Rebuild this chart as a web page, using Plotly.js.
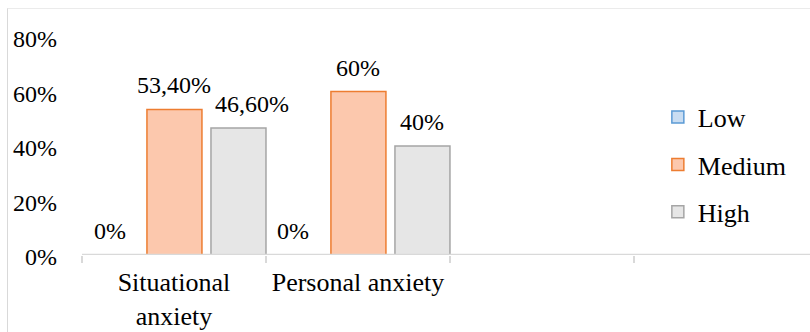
<!DOCTYPE html>
<html>
<head>
<meta charset="utf-8">
<script src="https://cdn.plot.ly/plotly-3.0.1.min.js"></script>
<style>
  html, body { margin: 0; padding: 0; background: #fff; }
  #wrap { position: relative; width: 810px; height: 332px; overflow: hidden; }
  #frame { position: absolute; left: 7px; top: 8px; width: 820px; height: 340px;
           border-left: 1.5px solid #d9d9d9; border-top: 1px solid #ebebeb; pointer-events: none; }
  #chart { position: absolute; left: 0; top: 0; width: 810px; height: 332px; }
</style>
</head>
<body>
<div id="wrap">
  <div id="chart"></div>
  <div id="frame"></div>
</div>
<script>
// ---- data ----
const categories = ["Situational anxiety", "Personal anxiety"];
const categoryLabels = ["Situational<br>anxiety", "Personal anxiety"];
const seriesNames = ["Low", "Medium", "High"];
const lowValues = [0, 0];
const mediumValues = [53.4, 60];
const highValues = [46.6, 40];
const yTickValues = [0, 20, 40, 60, 80];

// ---- styles ----
const serif = "Liberation Serif";
const styles = [
  { fill: "#c9ddf2", line: "#5b9bd5", offset: -0.5 },
  { fill: "#fcc8ad", line: "#ed7d31", offset: -0.147 },
  { fill: "#e6e6e6", line: "#a5a5a5", offset: 0.201 }
];
const barWidth = 0.299;
const allValues = [lowValues, mediumValues, highValues];
const xIdx = categories.map((c, i) => i);

function fmt(v) {
  return Number.isInteger(v) ? v + "%" : v.toFixed(2).replace(".", ",") + "%";
}
// rough label width (px) to nudge overlapping neighbour labels apart
function labelWidth(s) { return s.length * 12; }

const traces = allValues.map((vals, k) => ({
  type: "bar",
  name: seriesNames[k],
  legendgroup: seriesNames[k],
  x: xIdx,
  y: vals,
  width: barWidth,
  offset: styles[k].offset,
  marker: { color: styles[k].fill, line: { color: styles[k].line, width: 1.5 } },
  hoverinfo: "skip"
}));

const pxPerCat = 728 / 3.957;
const annotations = [];
xIdx.forEach((xi, j) => {
  let prevRight = -Infinity;
  allValues.forEach((vals, k) => {
    const v = vals[j];
    const txt = fmt(v);
    const cx = (xi + styles[k].offset + barWidth / 2) * pxPerCat;
    const w = labelWidth(txt);
    let shift = 0;
    if (cx - w / 2 < prevRight + 6) shift = prevRight + 6 - (cx - w / 2);
    prevRight = cx + shift + w / 2;
    annotations.push({
      xref: "x", yref: "y",
      x: xi + styles[k].offset + barWidth / 2,
      y: v,
      text: txt,
      showarrow: false,
      xanchor: "center", yanchor: "middle",
      xshift: shift,
      yshift: 24,
      font: { family: serif, size: 24, color: "#000" }
    });
  });
});

const layout = {
  width: 810, height: 332,
  margin: { l: 82, r: 0, t: 37, b: 77, pad: 0 },
  paper_bgcolor: "rgba(0,0,0,0)",
  plot_bgcolor: "rgba(0,0,0,0)",
  barmode: "overlay",
  showlegend: true,
  legend: {
    x: 0.791, xanchor: "left", y: 0.74, yanchor: "top",
    font: { family: serif, size: 26, color: "#000" },
    tracegroupgap: 10.5, itemwidth: 30, bgcolor: "rgba(0,0,0,0)"
  },
  shapes: [{
    type: "line", layer: "above",
    xref: "paper", yref: "y",
    x0: 0, x1: 1, y0: 0, y1: 0,
    line: { color: "#d9d9d9", width: 2.5 }
  }],
  xaxis: {
    type: "linear",
    range: [-0.5, 3.457],
    tickvals: xIdx,
    ticktext: categoryLabels,
    ticks: "",
    showgrid: false, zeroline: false,
    showline: false,
    tickfont: { family: serif, size: 26, color: "#000" },
    ticklabelstandoff: 9,
    minor: { ticks: "outside", ticklen: 7, tickcolor: "#d9d9d9", tickwidth: 1.5, tick0: -0.5, dtick: 1, showgrid: false }
  },
  yaxis: {
    range: [0, 80],
    tickvals: yTickValues,
    ticktext: yTickValues.map(v => v + "%"),
    ticks: "",
    showgrid: false, zeroline: false, showline: false,
    tickfont: { family: serif, size: 24, color: "#000" },
    ticklabelstandoff: 24,
    ticklabelshift: 2
  },
  annotations: annotations
};

Plotly.newPlot("chart", traces, layout, { staticPlot: true, displayModeBar: false });
</script>
</body>
</html>
